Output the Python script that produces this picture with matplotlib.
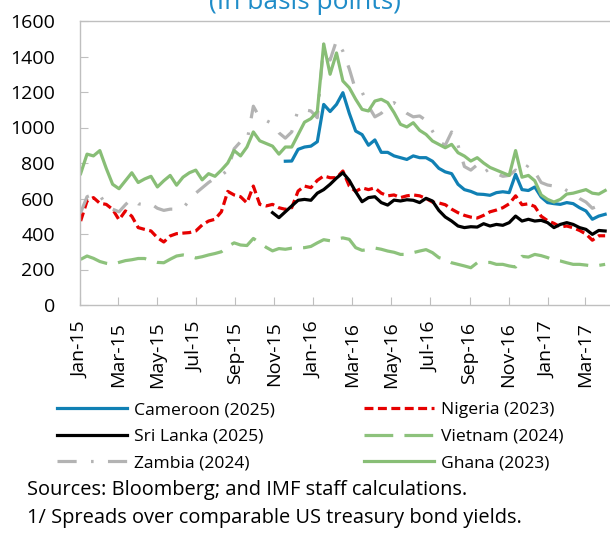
import matplotlib
matplotlib.use('Agg')
import matplotlib.pyplot as plt
import numpy as np
import pandas as pd

plt.rcParams['font.family'] = ['Open Sans', 'DejaVu Sans']

# one reading every 10 days, Jan 2015 to Apr 2017
dates = pd.date_range('2015-01-02', periods=83, freq='10D')

cameroon = [np.nan] * 32 + [
    810, 811, 877, 890, 895, 920, 1130, 1090, 1130, 1196,
    1080, 980, 960, 900, 930, 860, 860, 840, 830, 820, 840, 830, 830, 810, 770, 750, 740, 680, 650, 640, 625,
    623, 618, 633, 638, 633, 736, 650, 645, 665, 608, 577, 571, 567, 577, 571, 548, 530, 483, 501, 511]

nigeria = [
    473, 586, 605, 573, 567, 539, 480, 530, 500, 436, 426, 417, 379, 355, 389, 402, 405, 408, 417, 451, 473,
    483, 525, 640, 620, 610, 575, 670, 567, 558, 567, 548, 539, 548, 642, 670, 661, 702, 727, 717, 717, 755,
    670, 640, 660, 650, 660, 630, 615, 620, 605, 615, 620, 615, 600, 580, 575, 565, 540, 520, 505, 495, 490,
    505, 525, 535, 548, 570, 615, 565, 570, 555, 500, 475, 460, 440, 445, 435, 420, 400, 365, 390, 390]

sri_lanka = [np.nan] * 30 + [
    520, 492, 525, 558, 590, 595, 590, 630, 650, 680, 715, 745,
    702, 638, 582, 605, 610, 577, 563, 591, 586, 593, 590, 577, 601, 586, 533, 496, 473, 445, 436, 441, 439,
    458, 445, 454, 449, 464, 501, 473, 483, 473, 477, 464, 436, 454, 464, 454, 436, 426, 398, 420, 417]

vietnam = [
    257, 276, 263, 245, 235, 229, 240, 250, 255, 262, 262, 250, 240, 238, 258, 276, 282, 276, 265, 272, 282,
    290, 300, 330, 350, 338, 335, 375, 350, 325, 305, 318, 314, 320, 322, 323, 330, 350, 368, 362, 372, 378,
    370, 323, 308, 312, 321, 314, 304, 297, 285, 285, 295, 304, 312, 295, 267, 257, 238, 229, 220, 210, 238,
    238, 240, 229, 229, 220, 214, 274, 270, 285, 278, 267, 252, 248, 238, 229, 229, 225, 220, 223, 229]

zambia = [
    520, 610, 625, 620, 560, 540, 525, 565, 600, 570, 565, 570, 545, 533, 540, 540, 545, 590, 630, 660, 690,
    715, 730, 760, 880, 920, 920, 1120, 1055, 1040, 1020, 970, 940, 975, 1100, 1100, 1093, 1055, 1470, 1380, 1490, 1430,
    1330, 1210, 1200, 1120, 1060, 1080, 1120, 1140, 1110, 1080, 1060, 1065, 1040, 980, 920, 900, 975, 900, 780, 760, 790,
    745, 770, 740, 725, 730, 760, 740, 790, 750, 690, 676, 670, 668, 645, 630, 600, 580, 545, 560, 600]

ghana = [
    740, 850, 840, 870, 770, 680, 655, 700, 745, 690, 710, 725, 665, 700, 730, 675, 720, 745, 760, 705, 740,
    725, 760, 800, 870, 840, 890, 975, 925, 910, 895, 850, 890, 890, 960, 1030, 1050, 1090, 1470, 1300, 1420, 1262,
    1224, 1159, 1102, 1093, 1149, 1159, 1140, 1084, 1018, 1003, 1027, 984, 961, 924, 905, 886, 905, 858, 839, 811, 830,
    800, 775, 760, 745, 730, 870, 720, 730, 700, 620, 595, 580, 595, 625, 630, 640, 650, 630, 625, 645]

labels = ['Cameroon (2025)', 'Nigeria (2023)', 'Sri Lanka (2025)',
          'Vietnam (2024)', 'Zambia (2024)', 'Ghana (2023)']
values = [cameroon, nigeria, sri_lanka, vietnam, zambia, ghana]
colors = ['#1080b4', '#e60000', '#000000', '#8dc27c', '#b3b3b3', '#88be76']
dashes = [None, (2.8, 1.4), None, (9, 3.5), (6, 4.5, 0.8, 4.5), None]

W, H = 610, 542
fig = plt.figure(figsize=(W / 100, H / 100), dpi=100)
ax = fig.add_axes([80 / W, (H - 305) / H, 530 / W, 284 / H])

lines = {}
for lab, vals, col, ds in zip(labels, values, colors, dashes):
    ln, = ax.plot(dates, np.array(vals, dtype=float), color=col, lw=2.3, label=lab)
    if ds is not None:
        ln.set_dashes(ds)
    lines[lab] = ln

start = pd.Timestamp('2015-01-01')
ax.set_xlim(start, start + pd.Timedelta(days=828.6))
ax.set_ylim(0, 1600)
ax.set_yticks(range(0, 1601, 200))
ticks = pd.date_range('2015-01-01', '2017-03-01', freq='2MS')
ax.set_xticks(ticks)
ax.set_xticklabels([t.strftime('%b-%y') for t in ticks], rotation=90)

for s in ['left', 'bottom', 'top']:
    ax.spines[s].set_color('#bfbfbf')
    ax.spines[s].set_linewidth(1.0)
ax.spines['right'].set_visible(False)
ax.tick_params(axis='both', direction='in', length=6, color='#bfbfbf',
               labelsize=14, labelcolor='#000000')
ax.tick_params(axis='y', pad=18)
ax.tick_params(axis='x', pad=12)

order = ['Cameroon (2025)', 'Sri Lanka (2025)', 'Zambia (2024)',
         'Nigeria (2023)', 'Vietnam (2024)', 'Ghana (2023)']
fig.legend([lines[k] for k in order], order, ncol=2, frameon=False,
           loc='upper left', bbox_to_anchor=(57 / W, 1 - 402 / H),
           fontsize=12.6, handlelength=4.0, handletextpad=0.4,
           columnspacing=5.1, labelspacing=0.58, borderpad=0,
           borderaxespad=0)

fig.text(27 / W, 1 - 490 / H, 'Sources: Bloomberg; and IMF staff calculations.',
         fontsize=14.4, va='center', ha='left')
fig.text(27 / W, 1 - 518 / H, '1/ Spreads over comparable US treasury bond yields.',
         fontsize=14.4, va='center', ha='left')
fig.text(0.5, 1 - 9 / H, '(In basis points)', fontsize=19, color='#1f8cc8',
         ha='center', va='baseline')

fig.savefig('out.png', dpi=100)
